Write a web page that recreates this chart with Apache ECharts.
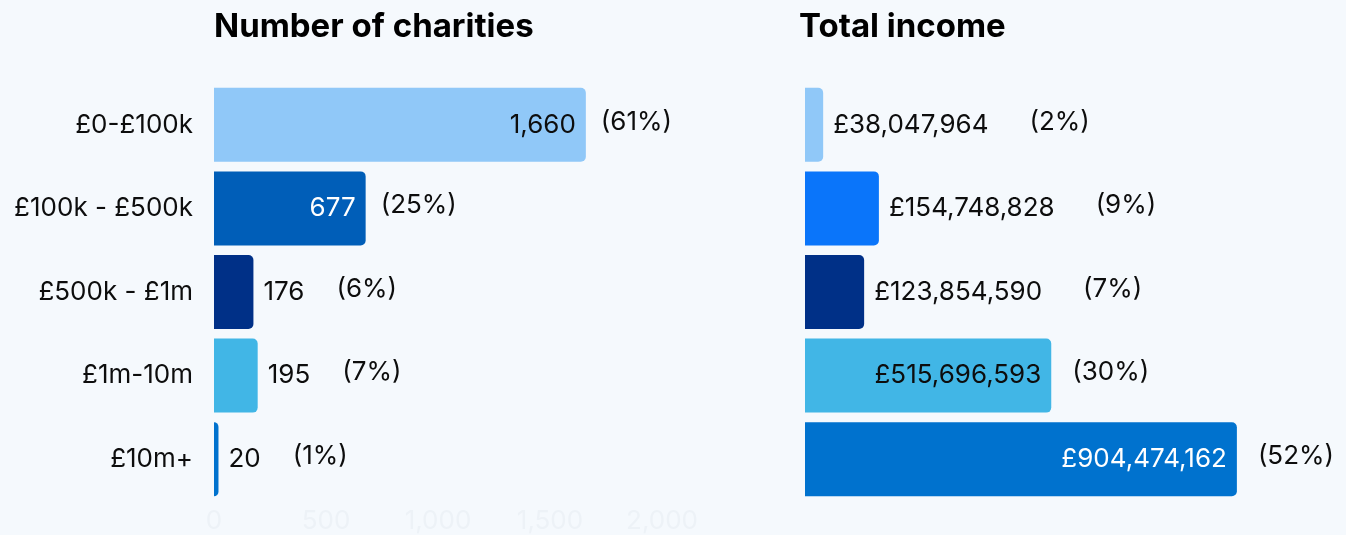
<!DOCTYPE html>
<html>
<head>
<meta charset="utf-8">
<script src="https://cdn.jsdelivr.net/npm/echarts@6/dist/echarts.min.js"></script>
<style>
  html, body { margin: 0; padding: 0; background: #f5f9fd; }
  #chart { width: 1346px; height: 535px; }
</style>
</head>
<body>
<div id="chart"></div>
<script>
// Charities by income band
const categories = ['£0-£100k', '£100k - £500k', '£500k - £1m', '£1m-10m', '£10m+'];
const charityCounts = [1660, 677, 176, 195, 20];
const charityShares = [61, 25, 6, 7, 1];
const incomeTotals = [38047964, 154748828, 123854590, 515696593, 904474162];
const incomeShares = [2, 9, 7, 30, 52];
const countTicks = [0, 500, 1000, 1500, 2000];

// Band colours for each panel
const countColors = ['#90c8f8', '#005eb8', '#003087', '#41b6e6', '#0072ce'];
const incomeColors = ['#90c8f8', '#0a75fa', '#003087', '#41b6e6', '#0072ce'];

const FONT = 'Inter';
const LABEL_SIZE = 26;
const TEXT = '#0d0d0d';

const measureCtx = document.createElement('canvas').getContext('2d');
measureCtx.font = LABEL_SIZE + 'px ' + FONT;
const textWidth = s => measureCtx.measureText(s).width;

function isDark(hex) {
  const r = parseInt(hex.slice(1, 3), 16), g = parseInt(hex.slice(3, 5), 16), b = parseInt(hex.slice(5, 7), 16);
  return (0.299 * r + 0.587 * g + 0.114 * b) < 140;
}

// Builds the coloured bars (value labels) and an overlaid transparent series
// that carries the percentage labels.
function panelSeries(idx, values, shares, colors, axisMax, fmt, insideGap, outsideGap) {
  const inside = values.map(v => v / axisMax > 0.25);
  const bars = {
    type: 'bar', xAxisIndex: idx, yAxisIndex: idx, barWidth: 74, barGap: '-100%',
    silent: true, z: 2,
    data: values.map((v, i) => ({
      value: v,
      itemStyle: { color: colors[i], borderRadius: [0, 5, 5, 0] },
      label: {
        show: true,
        position: inside[i] ? 'insideRight' : 'right',
        distance: 10,
        formatter: fmt(v),
        fontFamily: FONT, fontSize: LABEL_SIZE,
        color: inside[i] && isDark(colors[i]) ? '#ffffff' : TEXT
      }
    }))
  };
  const pct = {
    type: 'bar', xAxisIndex: idx, yAxisIndex: idx, barWidth: 74, barGap: '-100%',
    silent: true, z: 3,
    data: values.map((v, i) => ({
      value: v,
      itemStyle: { color: 'rgba(0,0,0,0)' },
      label: {
        show: true,
        position: 'right',
        distance: inside[i] ? insideGap : 10 + textWidth(fmt(v)) + outsideGap,
        offset: [0, -3],
        formatter: '(' + shares[i] + '%)',
        fontFamily: FONT, fontSize: LABEL_SIZE, color: TEXT
      }
    }))
  };
  return [bars, pct];
}

const countFmt = v => v.toLocaleString('en-GB');
const incomeFmt = v => '£' + v.toLocaleString('en-GB');

const chart = echarts.init(document.getElementById('chart'), null, { renderer: 'canvas' });
chart.setOption({
  backgroundColor: '#f5f9fd',
  animation: false,
  title: [
    { text: 'Number of charities', left: 209, top: 6,
      textStyle: { fontFamily: FONT, fontSize: 33, fontWeight: 'bold', color: '#000' } },
    { text: 'Total income', left: 794, top: 6,
      textStyle: { fontFamily: FONT, fontSize: 33, fontWeight: 'bold', color: '#000' } }
  ],
  grid: [
    { left: 214, top: 83, width: 448, height: 418 },
    { left: 805, top: 83, width: 477.5, height: 418 }
  ],
  xAxis: [
    { gridIndex: 0, type: 'value', min: countTicks[0], max: countTicks[countTicks.length - 1],
      interval: countTicks[1] - countTicks[0],
      axisLine: { show: false }, axisTick: { show: false }, splitLine: { show: false },
      axisLabel: { margin: 7, fontFamily: FONT, fontSize: LABEL_SIZE, color: '#edf2f7',
        formatter: v => v.toLocaleString('en-GB') } },
    { gridIndex: 1, type: 'value', min: 0, max: 1000000000,
      axisLine: { show: false }, axisTick: { show: false }, splitLine: { show: false },
      axisLabel: { show: false } }
  ],
  yAxis: [
    { gridIndex: 0, type: 'category', data: categories, inverse: true,
      axisLine: { show: false }, axisTick: { show: false },
      axisLabel: { margin: 21, fontFamily: FONT, fontSize: LABEL_SIZE, color: TEXT } },
    { gridIndex: 1, type: 'category', data: categories, inverse: true,
      axisLine: { show: false }, axisTick: { show: false }, axisLabel: { show: false } }
  ],
  series: [
    ...panelSeries(0, charityCounts, charityShares, countColors, 2000, countFmt, 15, 32),
    ...panelSeries(1, incomeTotals, incomeShares, incomeColors, 1000000000, incomeFmt, 21, 41)
  ]
});
</script>
</body>
</html>
